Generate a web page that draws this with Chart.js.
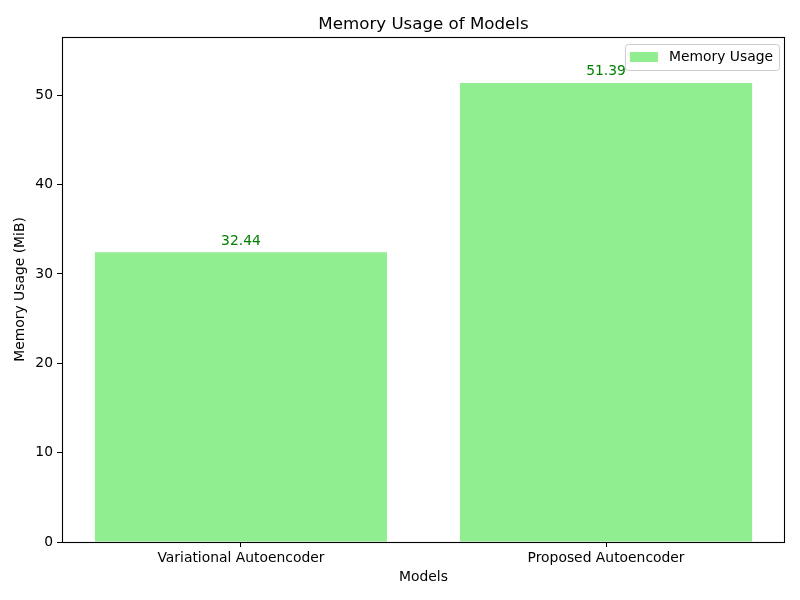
<!DOCTYPE html>
<html>
<head>
<meta charset="utf-8">
<script src="https://cdn.jsdelivr.net/npm/chart.js@4/dist/chart.umd.min.js"></script>
<style>
  html, body { margin: 0; padding: 0; background: #ffffff; }
  #wrap { width: 800px; height: 600px; }
</style>
</head>
<body>
<div id="wrap"><canvas id="c" width="800" height="600"></canvas></div>
<script>
// ---- data ----
const categories = ["Variational Autoencoder", "Proposed Autoencoder"];
const memoryUsage = [32.44, 51.39];
const seriesLabel = "Memory Usage";
const chartTitle = "Memory Usage of Models";
const xTitle = "Models";
const yTitle = "Memory Usage (MiB)";
const yTickStep = 10;

const FONT = "'DejaVu Sans', sans-serif";
Chart.defaults.font.family = FONT;
Chart.defaults.font.size = 13.89;
Chart.defaults.color = '#000000';

const BAR_COLOR = '#90ee90';

const decorPlugin = {
  id: 'decor',
  afterDatasetsDraw(chart) {
    const ctx = chart.ctx;
    const a = chart.chartArea;
    ctx.save();
    // frame (spines)
    ctx.strokeStyle = '#000000';
    ctx.lineWidth = 1.1;
    ctx.strokeRect(Math.round(a.left) + 0.5, Math.round(a.top) + 0.5,
                   Math.round(a.right - a.left) - 1, Math.round(a.bottom - a.top));

    // value labels
    const meta = chart.getDatasetMeta(0);
    ctx.fillStyle = '#008000';
    ctx.font = '13.89px ' + FONT;
    ctx.textAlign = 'center';
    ctx.textBaseline = 'alphabetic';
    meta.data.forEach((bar, i) => {
      ctx.fillText(memoryUsage[i].toFixed(2), bar.x, bar.y - 7.5);
    });

    // title
    ctx.fillStyle = '#000000';
    ctx.font = '16.67px ' + FONT;
    ctx.textBaseline = 'alphabetic';
    ctx.fillText(chartTitle, (a.left + a.right) / 2, a.top - 8.5);

    // legend (inside, upper right)
    ctx.font = '13.89px ' + FONT;
    const tw = ctx.measureText(seriesLabel).width;
    const patchW = 28, patchH = 10, padL = 5, gap = 11, padR = 6;
    const boxW = padL + patchW + gap + tw + padR;
    const boxH = 26;
    const bx = a.right - 6 - boxW;
    const by = a.top + 7;
    ctx.beginPath();
    ctx.roundRect(bx + 0.5, by + 0.5, boxW, boxH, 3);
    ctx.fillStyle = 'rgba(255,255,255,0.8)';
    ctx.fill();
    ctx.strokeStyle = '#cccccc';
    ctx.lineWidth = 1;
    ctx.stroke();
    ctx.fillStyle = BAR_COLOR;
    ctx.fillRect(bx + padL, by + boxH / 2 - patchH / 2, patchW, patchH);
    ctx.fillStyle = '#000000';
    ctx.textAlign = 'left';
    ctx.textBaseline = 'middle';
    ctx.fillText(seriesLabel, bx + padL + patchW + gap, by + boxH / 2 + 0.5);
    ctx.restore();
  }
};

new Chart(document.getElementById('c'), {
  type: 'bar',
  data: {
    datasets: [{
      label: seriesLabel,
      data: memoryUsage.map((v, i) => ({ x: i, y: v })),
      backgroundColor: BAR_COLOR,
      borderWidth: 0,
      categoryPercentage: 1.0,
      barPercentage: 0.8
    }]
  },
  options: {
    responsive: false,
    animation: false,
    layout: { padding: { top: 37, right: 15, left: 0, bottom: 0 } },
    plugins: {
      legend: { display: false },
      title: { display: false },
      tooltip: { enabled: false }
    },
    scales: {
      x: {
        type: 'linear',
        offset: false,
        bounds: 'data',
        min: -0.49,
        max: 1.49,
        afterBuildTicks: (scale) => { scale.ticks = categories.map((c, i) => ({ value: i })); },
        afterFit: (scale) => { scale.height = 58; },
        grid: { offset: false, drawOnChartArea: false, drawTicks: true, tickLength: 5, tickColor: '#000000', tickWidth: 1 },
        border: { display: false },
        ticks: {
          color: '#000000',
          padding: 3,
          maxRotation: 0,
          autoSkip: false,
          callback: (v) => categories[v] !== undefined ? categories[v] : ''
        },
        title: { display: true, text: xTitle, color: '#000000', font: { size: 13.89, lineHeight: 1.2 }, padding: { top: 0, bottom: 14.7 } }
      },
      y: {
        type: 'linear',
        min: 0,
        max: Math.max(...memoryUsage) * 1.1,
        afterBuildTicks: (scale) => { scale.ticks = scale.ticks.filter(t => Math.abs(t.value % yTickStep) < 1e-9); },
        afterFit: (scale) => { scale.width = 62; },
        grid: { drawOnChartArea: false, drawTicks: true, tickLength: 5, tickColor: '#000000', tickWidth: 1 },
        border: { display: false },
        ticks: { stepSize: yTickStep, color: '#000000', padding: 4 },
        title: { display: true, text: yTitle, color: '#000000', font: { size: 13.89, lineHeight: 1.2 }, padding: { top: 12, bottom: 0 } }
      }
    }
  },
  plugins: [decorPlugin]
});
</script>
</body>
</html>
